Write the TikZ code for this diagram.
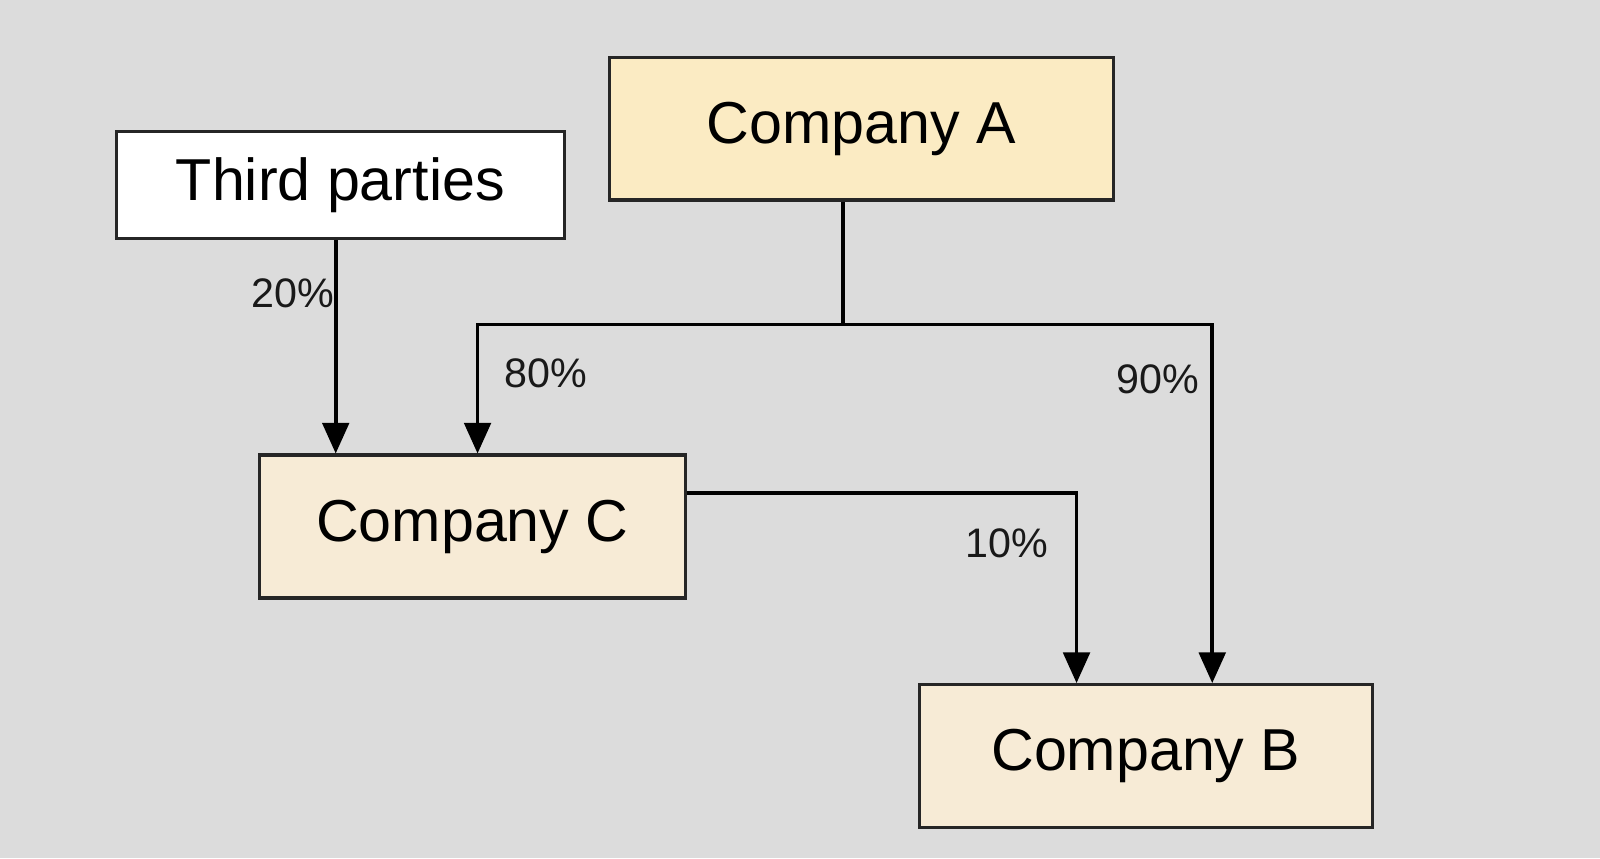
\documentclass[tikz,border=0pt]{standalone}
\usepackage{fontspec}
\setmainfont{Liberation Sans}
\usetikzlibrary{arrows.meta,positioning,calc}
\definecolor{bgGrey}{HTML}{DCDCDC}
\definecolor{aFill}{HTML}{FBEBC3}
\definecolor{cFill}{HTML}{F7EBD6}
\tikzset{
	compBox/.style={
		draw=black!85,
		line width=0.9pt,
		minimum height=1.40cm,
		font=\fontsize{16.5}{20}\selectfont,
		text = black
	},
	pctLabel/.style={
		font=\fontsize{11.5}{14}\selectfont,
		text = black!90
	},
	ownEdge/.style={
		line width=1pt,
		-{Triangle[length=3mm, width=2.6mm]}
	},
}
\begin{document}
\begin{tikzpicture}[y=-1cm]
\fill[bgGrey] (0,0) rectangle (15.68,8.41);
\useasboundingbox (0,0) rectangle (15.68,8.41);

\node[compBox, fill=aFill, minimum width=4.94cm] (compA) at (8.44,1.26){Company A};
\node[compBox, fill=white, minimum width=4.39cm, minimum height=1.05cm] (third) at (3.335,1.815){Third parties};
\node[compBox, fill=cFill, minimum width=4.18cm] (compC) at (4.63,5.16){Company C};
\node[compBox, fill=cFill, minimum width=4.44cm] (compB) at (11.23,7.41){Company B};

% helper corners
\coordinate (jA) at (8.26,3.18);

\draw[ownEdge] (compA.south -| jA) -- (jA) -| (compC.north -| 4.68,0);
\draw[ownEdge] (jA) -| (compB.north -| 11.88,0);
\draw[ownEdge] (third.south -| 3.29,0) -- (compC.north -| 3.29,0);
\draw[ownEdge] (compC.east |- 0,4.83) -| (compB.north -| 10.55,0);

\node[pctLabel] (p20) at (2.87,2.87){20\%};
\node[pctLabel] (p80) at (5.35,3.66){80\%};
\node[pctLabel] (p90) at (11.35,3.72){90\%};
\node[pctLabel] (p10) at (9.87,5.32){10\%};
\end{tikzpicture}
\end{document}
